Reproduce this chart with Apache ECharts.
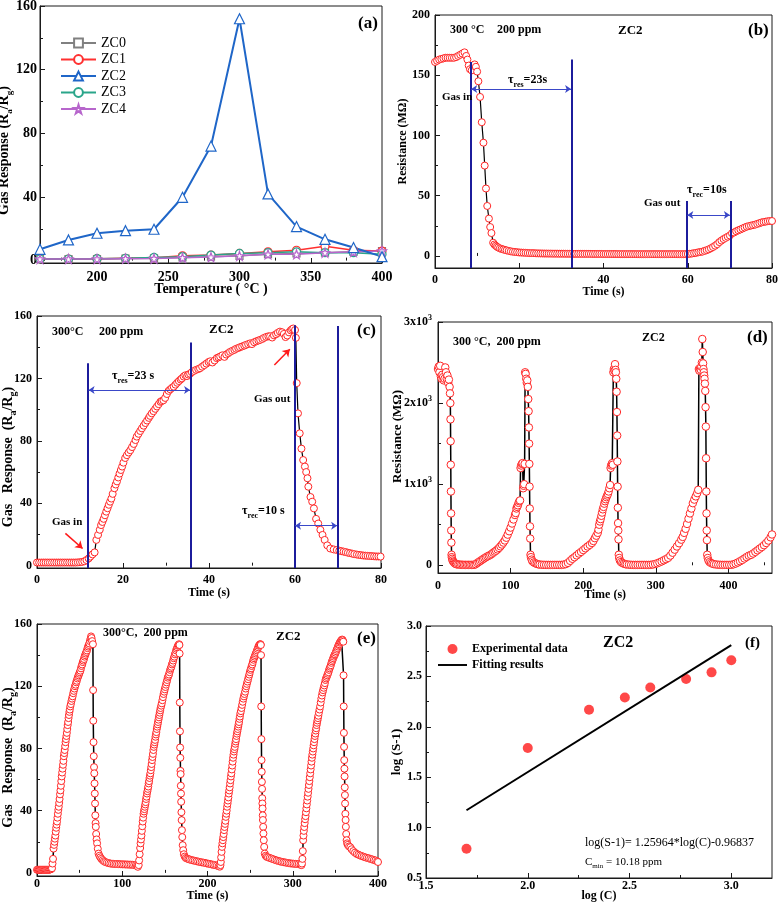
<!DOCTYPE html>
<html><head><meta charset="utf-8">
<script src="https://cdn.jsdelivr.net/npm/echarts@6.0.0/dist/echarts.min.js"></script>
<style>html,body{margin:0;padding:0;background:#fff}#main{width:780px;height:906px}</style>
</head><body><div id="main"></div>
<script>
// ---------- DATA ----------
// (a) temperature dependence
const temps = [160,180,200,220,240,260,280,300,320,340,360,380,400];
const zc0 = [1.0,1.0,1.0,1.3,1.5,2.0,2.5,3.0,4.0,4.5,5.0,5.5,6.0];
const zc1 = [1.0,1.0,1.2,1.5,1.8,3.0,3.5,4.5,5.5,6.5,9.0,6.5,6.0];
const zc2 = [7.1,13.0,17.2,18.8,19.7,39.8,72.0,152.0,41.9,21.4,13.4,8.2,2.5];
const zc3 = [1.0,1.0,1.2,1.5,2.0,2.5,3.5,4.5,5.0,5.5,5.0,5.0,4.0];
const zc4 = [1.0,1.0,1.0,1.2,1.3,1.8,2.2,3.0,4.0,4.0,5.0,5.5,6.0];

// (b) resistance vs time [t, R]
const resistB = [[0,161],[0.5,162],[1,163],[1.5,163.5],[2,164],[2.5,164.5],[3,164.5],[3.5,164.5],[4,164.5],[4.5,164.5],[5,165],[5.5,166],[6,167],[6.5,168],[7,169],[7.4,166],[7.7,163],[8,158],[8.3,155],[8.7,154],[9.1,158],[9.4,159],[9.7,157],[10,153],[10.3,145],[10.7,132],[11.1,111],[11.5,94],[11.8,75],[12.1,56],[12.4,41.5],[12.8,31],[13.1,24],[13.4,19],[13.8,11],[14.1,9.5],[14.4,8.5],[14.7,7.7],[15,7],[15.4,6.3],[15.8,5.8],[16.2,5.4],[16.6,5],[17,4.6],[17.5,4.2],[18,3.8],[18.5,3.5],[19,3.3],[19.5,3.1],[20,2.9],[20.5,2.8],[21,2.7],[21.5,2.6],[22,2.5],[22.5,2.4],[23,2.35],[23.5,2.3],[24,2.2],[24.5,2.15],[25,2.1],[25.5,2.05],[26,2],[26.5,2],[27,1.95],[27.5,1.95],[28,1.9],[28.5,1.9],[29,1.9],[29.5,1.85],[30,1.85],[30.5,1.85],[31,1.8],[31.5,1.8],[32,1.8],[32.5,1.8],[33,1.75],[33.5,1.75],[34,1.75],[34.5,1.75],[35,1.7],[35.5,1.7],[36,1.7],[36.5,1.7],[37,1.7],[37.5,1.65],[38,1.65],[38.5,1.65],[39,1.65],[39.5,1.65],[40,1.6],[40.5,1.6],[41,1.6],[41.5,1.6],[42,1.6],[42.5,1.6],[43,1.6],[43.5,1.55],[44,1.55],[44.5,1.55],[45,1.55],[45.5,1.55],[46,1.55],[46.5,1.55],[47,1.5],[47.5,1.5],[48,1.5],[48.5,1.5],[49,1.5],[49.5,1.5],[50,1.5],[50.5,1.5],[51,1.5],[51.5,1.5],[52,1.5],[52.5,1.5],[53,1.5],[53.5,1.5],[54,1.5],[54.5,1.5],[55,1.5],[55.5,1.5],[56,1.5],[56.5,1.5],[57,1.5],[57.5,1.5],[58,1.5],[58.5,1.5],[59,1.5],[59.5,1.55],[60,1.6],[60.5,1.8],[61,2],[61.5,2.3],[62,2.6],[62.5,3],[63,3.3],[63.5,3.6],[64,4.2],[64.5,4.8],[65,5.5],[65.5,6.4],[66,7.4],[66.5,8.5],[67,9.8],[67.5,11.5],[68,12.8],[68.5,14],[69,15],[69.5,16],[70,17],[70.5,18.8],[71,19.5],[71.5,20.5],[72,21.3],[72.5,22],[73,22.8],[73.5,23.6],[74,24.3],[74.5,24.8],[75,25.2],[75.5,25.6],[76,26],[76.5,26.6],[77,27.2],[77.5,27.8],[78,28.2],[78.5,28.5],[79,28.8],[79.5,29],[80,29]];

// (c) response vs time [t, S]
const respC = [[0,2],[0.5,2],[1,2],[1.5,2],[2,2],[2.5,2],[3,2],[3.5,2],[4,2],[4.5,2],[5,2],[5.5,2],[6,2],[6.5,2],[7,2],[7.5,2],[8,2],[8.5,2],[9,2],[9.5,2.1],[10,2.2],[10.5,2.4],[11,2.8],[11.5,3.6],[12,4.6],[12.4,5.8],[12.9,7.2],[13.4,8.5],[13.8,16.5],[14.2,19.7],[14.6,23],[14.9,26],[15.2,28],[15.5,30],[15.8,32.3],[16.1,34.6],[16.4,36.8],[16.7,39],[17,41],[17.3,43],[17.6,46],[18,49.6],[18.3,52],[18.6,54],[18.9,56.5],[19.2,59],[19.5,61.3],[19.8,63.5],[20.1,66],[20.5,69],[20.9,70.8],[21.3,72.5],[21.7,74],[22.1,76],[22.5,78],[22.9,80.5],[23.2,82.7],[23.6,84.5],[24,86.3],[24.4,88],[24.8,89.7],[25.2,91.4],[25.6,93],[26,94.7],[26.3,96],[26.7,97.6],[27.1,99],[27.5,100.5],[27.9,102],[28.3,103.5],[28.7,105],[29,105.5],[29.4,106],[29.8,107.5],[30.2,110],[30.6,112],[31,113],[31.4,114],[31.8,114.7],[32.2,116],[32.6,117.2],[33,118.3],[33.4,119.3],[33.7,120],[34.1,121.2],[34.5,122],[34.9,121.5],[35.2,122.5],[35.6,123],[36,124],[36.5,124.8],[37,125.5],[37.5,126],[37.9,126.5],[38.4,127.5],[38.9,128.5],[39.4,129.5],[39.9,130.5],[40.3,131],[40.8,130.2],[41.3,131.5],[41.8,133],[42.2,133.5],[42.6,134],[43.1,134.8],[43.6,133.8],[44,135.3],[44.5,136.2],[44.9,137],[45.4,137.7],[45.9,138.3],[46.3,139],[46.8,139.5],[47.2,140],[47.7,140.5],[48.2,141],[48.6,141.5],[49.1,142],[49.6,142.5],[50,142],[50.5,143.2],[51,143.8],[51.5,144.3],[51.9,144.7],[52.4,145.3],[52.8,146],[53.3,146.6],[53.8,147],[54.2,147],[54.7,146.2],[55.1,147.6],[55.6,148.3],[56,149.2],[56.5,150],[57,149.6],[57.4,148.5],[57.8,146.5],[58.2,147.5],[58.6,149.5],[59,150.8],[59.3,151.5],[59.6,152],[60,151],[60.2,146],[60.4,117],[60.7,97.6],[61.1,84.8],[61.5,75],[61.9,67.7],[62.3,63.5],[62.6,60],[62.9,56],[63.1,50.6],[63.6,44],[64,41],[64.4,36.7],[64.9,30],[65.4,27],[65.9,23],[66.4,19.7],[66.9,16.5],[67.5,13],[68.2,11],[69,10.4],[69.7,10],[70.3,9.6],[70.8,9.3],[71.3,9],[71.8,8.7],[72.3,8.3],[72.8,8],[73.3,7.7],[73.8,7.4],[74.4,7.1],[74.9,6.9],[75.4,6.7],[75.9,6.5],[76.4,6.4],[76.9,6.3],[77.4,6.2],[77.9,6.1],[78.4,6],[78.9,5.9],[79.4,5.9],[79.9,5.8]];

// (d) cyclic resistance [t, R]
const resistD = [[0,2420],[1,2450],[2,2380],[3,2460],[4,2330],[5,2300],[6,2350],[7,2320],[8,2280],[9,2300],[10,2440],[11,2380],[12,2300],[13,2340],[14,2250],[15,2290],[16,2200],[16.5,2120],[17,2000],[17.2,1800],[17.4,1530],[17.6,1240],[17.8,910],[18,640],[18.2,430],[18.4,280],[18.7,130],[19,100],[19.5,80],[20,60],[21,45],[22,35],[23,25],[24,20],[25,15],[26,12],[28,10],[30,8],[32,7],[34,6],[36,5],[38,5],[40,5],[42,5],[44,5],[46,5],[48,5],[50,6],[52,14],[54,28],[56,40],[58,52],[60,64],[62,76],[64,88],[66,99],[68,110],[70,118],[72,128],[74,140],[76,155],[78,168],[80,180],[82,196],[84,214],[86,234],[88,256],[90,280],[92,306],[94,340],[96,378],[98,420],[100,465],[102,515],[104,565],[106,620],[107,645],[108,700],[109,720],[110,740],[111,770],[112,790],[113,800],[113.7,1200],[114.5,1230],[115.5,1250],[116.5,1260],[117.3,950],[118,980],[118.7,1000],[119.3,1250],[120,2380],[120.7,2360],[121.5,2300],[122.3,2250],[123,2280],[123.7,2200],[124.3,2050],[124.8,1900],[125.2,1700],[125.5,1500],[125.8,1250],[126.1,970],[126.4,700],[126.7,480],[127,330],[127.4,130],[128,100],[129,70],[130,50],[132,35],[134,25],[136,18],[138,12],[140,9],[143,7],[146,6],[149,5],[152,5],[155,5],[158,5],[161,5],[164,5],[167,5],[170,5],[173,8],[176,15],[179,30],[182,55],[185,80],[188,100],[191,122],[194,145],[197,165],[200,188],[203,210],[206,232],[209,252],[212,275],[214,300],[216,335],[218,365],[220,400],[221,440],[222,500],[223,540],[224,570],[225,610],[226,650],[227,690],[228,720],[229,760],[230,790],[231,815],[232,840],[233,860],[234,880],[235,910],[236,950],[237,990],[237.7,1200],[238.5,1230],[239.3,1250],[240,1260],[240.8,1240],[241.5,2380],[242.2,2420],[243,2400],[243.8,2480],[244.5,2410],[245,2380],[245.5,2300],[246,2140],[246.4,1890],[246.8,1600],[247.1,1280],[247.4,970],[247.7,710],[248,520],[248.3,430],[248.6,320],[249,130],[249.6,90],[250.5,60],[252,40],[254,28],[256,20],[258,14],[260,10],[263,8],[266,6],[269,5],[272,5],[275,5],[278,5],[281,5],[284,5],[287,5],[290,5],[293,6],[296,10],[299,16],[302,25],[305,36],[308,48],[311,62],[314,76],[317,92],[320,120],[323,155],[326,193],[329,232],[332,272],[335,316],[337,350],[339,400],[341,450],[343,510],[345,575],[347,640],[349,700],[351,766],[353,810],[355,850],[357,890],[358.4,930],[359.3,2420],[360,2400],[361,2430],[362,2410],[362.7,2450],[363.4,2500],[364,2790],[364.6,2630],[365.1,2490],[365.6,2420],[366.1,2380],[366.6,2340],[367.1,2300],[367.6,2240],[368.1,2150],[368.5,1950],[368.9,1710],[369.2,1320],[369.5,910],[369.8,640],[370.1,430],[370.4,310],[370.8,130],[371.5,90],[372.5,60],[374,40],[376,28],[378,20],[380,14],[383,10],[386,7],[389,6],[392,5],[395,5],[398,5],[401,5],[404,6],[407,12],[410,22],[413,35],[416,50],[419,66],[422,84],[425,102],[428,118],[431,128],[434,145],[437,165],[440,185],[443,205],[446,225],[449,248],[452,275],[455,305],[458,345],[460,380]];

// (e) cyclic response [t, S]
const respE = [[0,2],[1,2],[2,2],[3,2],[4,2],[5,2],[6,2],[7,2],[8,2],[9,2],[10,2],[11,2],[12,2],[13,2],[14,2],[15,2.1],[16,2.3],[17,2.6],[17.6,3],[18.2,6],[18.8,9],[19.4,15.6],[20,18],[20.5,20],[21,22],[21.5,24],[22,26.5],[22.5,29],[23,31],[23.5,33],[24,35.5],[24.5,38],[25,40.5],[25.5,42.5],[26,45],[26.5,47.5],[27,50.5],[27.5,53],[28,56],[28.5,59],[29,62],[29.5,64.5],[30,67],[30.5,69.5],[31,72],[31.5,75],[32,77],[32.5,79],[33,81.5],[33.5,84],[34,86],[34.5,88],[35,90],[35.5,92.5],[36,95],[36.5,97],[37,99.5],[37.5,101.5],[38,103.5],[38.5,105],[39,107],[39.7,108.5],[40.4,110.5],[41.1,112],[41.8,113.5],[42.5,115.5],[43.2,117],[43.9,118.5],[44.6,120],[45.3,121],[46,122.5],[46.7,123.5],[47.4,125],[48.1,126],[48.8,127],[49.5,128],[50.2,129],[50.9,130],[51.6,131.5],[52.3,133],[53,134],[53.7,135.5],[54.4,136.5],[55.1,137.5],[55.8,139],[56.5,140],[57.2,141],[57.9,142],[58.6,143],[59.3,144.5],[60,145.5],[60.7,146.5],[61.4,147.5],[62.1,149],[62.8,150.5],[63.4,152],[64,151],[64.7,149],[65.6,147],[65.8,117.5],[66,97.8],[66.3,84],[66.6,75],[66.9,68],[67.2,64],[67.5,57.5],[67.8,51],[68.1,44.6],[68.4,37],[68.7,32],[69,29.6],[69.4,25],[69.9,21.5],[70.5,19],[71.3,15.5],[72.2,12.4],[73.2,11],[74.3,10],[75.5,9],[77,8.2],[78.5,7.5],[80,7],[82,6.6],[84,6.3],[86,6],[88,5.9],[90,5.8],[92,5.7],[94,5.7],[96,5.6],[98,5.6],[100,5.5],[102,5.5],[104,5.4],[106,5.4],[108,5.3],[110,5.3],[112,5.2],[114,5.1],[116,5],[117.3,4.5],[118.3,3.9],
[119.3,5],[119.8,8],[120.4,12],[121,16],[121.5,19],[122,21.5],[122.5,24],[123,27],[123.5,30],[124,33],[124.5,35.5],[125,38],[125.5,39.5],[126,41],[126.5,42.5],[127,44],[127.5,45.5],[128,47.5],[128.5,49],[129,51],[129.5,52.5],[130,54],[130.5,55.5],[131,57.5],[131.5,59],[132,61],[132.5,62.5],[133,64],[133.5,66],[134,68],[134.5,70],[135,72.5],[135.5,74.5],[136,76.5],[136.5,79],[137,81],[137.5,82.5],[138,84],[138.5,85.5],[139,87.5],[139.5,89],[140,90.5],[140.5,92.5],[141,94],[141.5,95.5],[142,97],[142.5,98.5],[143,100],[143.5,101.5],[144,103],[144.5,104.5],[145,106],[145.7,107.5],[146.4,109],[147.1,111],[147.8,113],[148.5,115],[149.2,116.5],[149.9,118],[150.6,119.5],[151.3,121],[152,122.5],[152.7,124],[153.4,125.5],[154.1,126.5],[154.8,127.5],[155.5,129],[156.2,130.5],[156.9,131.5],[157.6,132.5],[158.3,134],[159,135],[159.7,136.5],[160.4,138],[161.1,139],[161.8,140.5],[162.5,141.5],[163.2,143],[163.9,144],[164.6,145],[165.3,146],[166,146.5],[166.6,147],[167.1,146.5],[167.3,141],[167.5,109.5],[167.7,91],[167.9,80.6],[168.1,74],[168.3,65.6],[168.5,63.5],[168.7,56],[168.9,51],[169.1,45.7],[169.4,39],[169.7,33.9],[170,27.5],[170.4,23],[170.9,17.8],[171.5,14.6],[172.3,12],[173.3,10.5],[174.5,9.6],[176,9.2],[177.5,8.9],[179,8.6],[181,8.3],[183,8],[185,7.8],[187,7.5],[189,7.3],[191,7],[193,6.8],[195,6.6],[197,6.4],[199,6.1],[201,5.9],[203,5.7],[205,5.4],[207,5.2],[209,5],[211,4.7],[213,4.3],[214.5,4],
[215.2,5],[215.6,7],[216,10],[216.5,13.5],[217,16.7],[217.5,19],[218,21],[218.5,23],[219,25],[219.5,27.5],[220,29.5],[220.5,31.5],[221,33.5],[221.5,36],[222,38],[222.5,40],[223,42.5],[223.5,44.5],[224,46.5],[224.5,48.5],[225,51],[225.5,53],[226,55],[226.5,57.5],[227,59.6],[227.5,62],[228,64],[228.5,66.5],[229,69],[229.5,71.5],[230,74],[230.5,76],[231,78],[231.5,79.5],[232,81],[232.5,83],[233,84.5],[233.5,86],[234,88],[234.5,89.5],[235,91],[235.5,92.5],[236,94],[236.5,95.5],[237,97],[237.5,99],[238,100.5],[238.5,102.5],[239.2,104],[239.9,106],[240.6,108],[241.3,110],[242,112],[242.7,113.5],[243.4,115],[244.1,116.5],[244.8,118.5],[245.5,120],[246.2,121.5],[246.9,123],[247.6,124.5],[248.3,126],[249,127.5],[249.7,129],[250.4,130.5],[251.1,131.5],[251.8,133],[252.5,134],[253.2,135.5],[253.9,137],[254.6,138],[255.3,139],[256,140],[256.7,141],[257.4,142],[258.1,143],[258.8,144],[259.5,145],[260.2,146],[260.9,146.5],[261.6,147],[262.2,147],[262.6,146.5],[262.8,140],[263,107],[263.2,86],[263.4,72.5],[263.6,65],[263.8,58.5],[264,54],[264.2,48],[264.4,44.6],[264.6,41.4],[264.8,37],[265,34],[265.3,29.6],[265.6,25.3],[266,21],[266.5,16.7],[267.2,12.4],[268.2,11],[269.5,10.3],[271,10],[273,9.6],[275,9.2],[277,8.8],[279,8.4],[281,8],[283,7.7],[285,7.4],[287,7.1],[289,6.9],[291,6.7],[293,6.5],[295,6.3],[297,6.1],[299,6],[301,5.9],[303,5.8],[305,5.7],[307,5.6],[309,5.3],[310.3,5],
[310.8,6],[311.3,9],[311.8,14],[312.2,21],[312.6,24],[313,27],[313.5,29.5],[314,32],[314.5,34.5],[315,36.5],[315.5,39],[316,41.5],[316.5,44],[317,46.5],[317.5,49],[318,51.5],[318.5,54],[319,56.5],[319.5,59],[320,61.5],[320.5,64],[321,66.5],[321.5,69],[322,71.5],[322.5,74],[323,76],[323.5,78],[324,80],[324.5,82],[325,84],[325.5,86],[326,88],[326.5,89.6],[327,91.5],[327.5,93],[328,95],[328.5,96.5],[329,98],[329.5,99.5],[330,101],[330.7,103],[331.4,105],[332.1,107],[332.8,109.5],[333.5,112],[334.2,114],[334.9,116],[335.6,117.5],[336.3,119],[337,120.5],[337.7,122],[338.4,124],[339.1,125],[339.8,126],[340.5,127],[341.2,128],[341.9,129],[342.6,130.5],[343.3,131.5],[344,132.5],[344.7,133.5],[345.4,135],[346.1,136],[346.8,137],[347.5,138],[348.2,139],[348.9,140],[349.6,140.5],[350.3,141.5],[351,142.5],[351.7,143.5],[352.4,144.5],[353.1,145.5],[353.8,146.5],[354.5,147],[355.2,148],[355.9,148.6],[356.6,149.2],[357.3,149.7],[358,150],[358.7,149.5],[359.3,148.6],[359.6,127],[359.8,107],[360,90],[360.2,81],[360.4,72.5],[360.6,67],[360.8,62],[361,55],[361.2,50],[361.4,44.6],[361.7,38],[362,34],[362.3,29.6],[362.7,25],[363.2,21],[363.8,19],[364.6,18],[366,17],[367.5,16.5],[369,15.2],[371,14],[373,13],[375,12.2],[377,11.7],[379,11.2],[381,10.8],[383,10.4],[385,10],[387,9.7],[389,9.4],[391,9],[393,8.7],[395,8.3],[397,8],[399,7.5],[400,7]];

// (f) log-log fit
const logC = [1.699, 2.0, 2.301, 2.477, 2.602, 2.778, 2.903, 3.0];
const logS = [0.79, 1.79, 2.17, 2.29, 2.39, 2.475, 2.54, 2.66];
const fitX = [1.699, 3.0];
const fitY = [1.172, 2.810];

// tick labels
const ticksA_x = [200,250,300,350,400], ticksA_y = [0,40,80,120,160];
const ticksB_x = [0,20,40,60,80], ticksB_y = [0,50,100,150,200];
const ticksC_x = [0,20,40,60,80], ticksC_y = [0,40,80,120,160];
const ticksD_x = [0,100,200,300,400], ticksD_y = [0,1000,2000,3000];
const ticksE_x = [0,100,200,300,400], ticksE_y = [0,40,80,120,160];
const ticksF_x = [1.5,2.0,2.5,3.0], ticksF_y = [0.5,1.0,1.5,2.0,2.5,3.0];

// ---------- CHART ----------
const SERIF = '"Liberation Serif","Times New Roman",serif';
const INK = '#1a1a1a';
const RED = '#ff2626';
const NAVY = '#1c1c9c';

function mainAxis(gi, min, max, ticks, o) {
  o = o || {};
  const fs = o.fs || 12;
  const a = {
    type: 'value', gridIndex: gi, min: min, max: max,
    axisLine: {show: true, onZero: false, lineStyle: {color: INK, width: 1}},
    axisTick: {show: true, inside: true, length: 5, customValues: ticks, lineStyle: {color: INK, width: 1}},
    axisLabel: {show: true, customValues: ticks, fontFamily: SERIF, fontWeight: 'bold', fontSize: fs, color: '#000', margin: o.margin == null ? 5 : o.margin},
    splitLine: {show: false},
    name: o.name, nameLocation: 'middle', nameGap: o.nameGap, nameMoveOverlap: false,
    nameTextStyle: Object.assign({fontFamily: SERIF, fontWeight: 'bold', fontSize: o.nfs || 12, color: '#000'}, o.nameStyle || {})
  };
  if (o.formatter) a.axisLabel.formatter = o.formatter;
  if (o.rich) a.axisLabel.rich = o.rich;
  return a;
}
function minorAxis(gi, min, max, vals, pos) {
  return {type: 'value', gridIndex: gi, min: min, max: max, position: pos,
    axisLine: {show: false}, axisLabel: {show: false}, splitLine: {show: false},
    axisTick: {show: true, inside: true, length: 3, customValues: vals, lineStyle: {color: INK, width: 1}}};
}
function subName(prefix, size, subSize) {
  return {
    text: '{n|' + prefix + '(R}{s|a}{n|/R}{s|g}{n|)}',
    rich: {
      n: {fontFamily: SERIF, fontWeight: 'bold', fontSize: size, lineHeight: size + 5, color: '#000'},
      s: {fontFamily: SERIF, fontWeight: 'bold', fontSize: subSize, lineHeight: subSize, verticalAlign: 'bottom', color: '#000'}
    }
  };
}
const nA = subName('Gas Response ', 14, 9);
const nC = subName('Gas   Response  ', 14, 10);
const nE = subName('Gas   Response  ', 14, 10);

const xAxes = [
  mainAxis(0, 160, 400, ticksA_x, {fs: 14, margin: 7, name: 'Temperature ( \u00B0C )', nameGap: 19, nfs: 14}),
  mainAxis(1, 0, 80, ticksB_x, {margin: 6, name: 'Time (s)', nameGap: 18}),
  mainAxis(2, 0, 80, ticksC_x, {margin: 6, name: 'Time (s)', nameGap: 19}),
  mainAxis(3, 0, 460, ticksD_x, {margin: 7, name: 'Time (s)', nameGap: 16}),
  mainAxis(4, 0, 400, ticksE_x, {margin: 2, name: 'Time (s)', nameGap: 14}),
  mainAxis(5, 1.5, 3.2, ticksF_x, {margin: 2, name: 'log (C)', nameGap: 12, formatter: v => v.toFixed(1)}),
  minorAxis(0, 160, 400, [175,225,275,325,375], 'bottom'),
  minorAxis(1, 0, 80, [10,30,50,70], 'bottom'),
  minorAxis(2, 0, 80, [10,30,50,70], 'bottom'),
  minorAxis(3, 0, 460, [50,150,250,350,450], 'bottom'),
  minorAxis(4, 0, 400, [50,150,250,350], 'bottom'),
  minorAxis(5, 1.5, 3.2, [1.75,2.25,2.75], 'bottom')
];
const yAxes = [
  mainAxis(0, -1.5, 160, ticksA_y, {fs: 14, margin: 3, name: nA.text, nameGap: 26, nameStyle: {rich: nA.rich, padding: [0, 32, 0, 0]}}),
  mainAxis(1, -10, 200, ticksB_y, {margin: 5, name: 'Resistance (M\u03A9)', nameGap: 26}),
  mainAxis(2, -1.5, 160, ticksC_y, {margin: 5, name: nC.text, nameGap: 19, nameStyle: {rich: nC.rich, padding: [0, 30, 0, 0]}}),
  mainAxis(3, -95, 3000, ticksD_y, {margin: 6, name: 'Resistance (M\u03A9)', nameGap: 34, nfs: 13,
    nameStyle: {padding: [0, 0, 0, 22]},
    formatter: v => v === 0 ? '{m|0}' : '{m|' + Math.round(v / 1000) + 'x10}{p|3}',
    rich: {m: {fontFamily: SERIF, fontWeight: 'bold', fontSize: 12, lineHeight: 16, color: '#000'},
           p: {fontFamily: SERIF, fontWeight: 'bold', fontSize: 8, lineHeight: 8, verticalAlign: 'top', color: '#000'}}}),
  mainAxis(4, -2, 160, ticksE_y, {margin: 5, name: nE.text, nameGap: 19, nameStyle: {rich: nE.rich, padding: [0, 15, 0, 0]}}),
  mainAxis(5, 0.5, 3.0, ticksF_y, {margin: 4, name: 'log (S-1)', nameGap: 23, nfs: 13, formatter: v => v.toFixed(1)}),
  minorAxis(0, -1.5, 160, [20,60,100,140], 'left'),
  minorAxis(1, -10, 200, [25,75,125,175], 'left'),
  minorAxis(2, -1.5, 160, [20,60,100,140], 'left'),
  minorAxis(3, -95, 3000, [500,1500,2500], 'left'),
  minorAxis(4, -2, 160, [20,60,100,140], 'left'),
  minorAxis(5, 0.5, 3.0, [0.75,1.25,1.75,2.25,2.75], 'left')
];

const grids = [
  {left: 40, top: 6, width: 342, height: 257},
  {left: 435, top: 15, width: 337, height: 253},
  {left: 37, top: 316, width: 344, height: 252},
  {left: 438, top: 322, width: 334, height: 251},
  {left: 37, top: 624, width: 341, height: 252},
  {left: 426, top: 626, width: 346, height: 252}
].map(g => Object.assign(g, {show: true, borderColor: INK, borderWidth: 1, backgroundColor: 'transparent', containLabel: false, outerBoundsMode: 'none'}));

const STAR = 'path://M50,2 L61,36 L97,36 L68,57 L79,92 L50,71 L21,92 L32,57 L3,36 L39,36 Z';
function tempSeries(name, data, color, symbol, size, width) {
  return {type: 'line', name: name, xAxisIndex: 0, yAxisIndex: 0,
    data: temps.map((t, i) => [t, data[i]]), symbol: symbol, symbolSize: size,
    itemStyle: {color: '#fff', borderColor: color, borderWidth: 1.2},
    lineStyle: {color: color, width: width}, emphasis: {disabled: true}};
}
function timeSeries(name, gi, data, extra) {
  return Object.assign({type: 'line', name: name, xAxisIndex: gi, yAxisIndex: gi, data: data,
    symbol: 'circle', symbolSize: 7, showSymbol: true, showAllSymbol: true,
    itemStyle: {color: '#fff', borderColor: RED, borderWidth: 1},
    lineStyle: {color: '#000', width: 1.2}, emphasis: {disabled: true}}, extra || {});
}
function vline(x, y0, y1) { return [{coord: [x, y0], symbol: 'none'}, {coord: [x, y1], symbol: 'none'}]; }
function harrow(x0, x1, y) {
  const ls = {color: '#3a48c8', width: 1, type: 'solid'};
  return [{coord: [x0, y], symbol: 'arrow', symbolSize: 6, lineStyle: ls}, {coord: [x1, y], symbol: 'arrow', symbolSize: 6}];
}
function redArrow(x0, y0, x1, y1) {
  const ls = {color: '#ff1a1a', width: 1.5, type: 'solid'};
  return [{coord: [x0, y0], symbol: 'none', lineStyle: ls}, {coord: [x1, y1], symbol: 'arrow', symbolSize: 7}];
}
const mlBase = {silent: true, animation: false, label: {show: false}, symbol: ['none', 'none'],
  lineStyle: {color: NAVY, width: 2, type: 'solid'}, emphasis: {disabled: true}};

function T(x, y, text, size, bold, rich) {
  return {type: 'text', x: x, y: y, silent: true, z: 100,
    style: {text: text, fontSize: size, fontFamily: SERIF, fontWeight: bold ? 'bold' : 'normal', fill: '#000',
      align: 'left', verticalAlign: 'middle', textAlign: 'left', textVerticalAlign: 'middle', rich: rich}};
}
function tauRich(size) {
  return {t: {fontSize: size, fontFamily: SERIF, fontWeight: 'bold', fill: '#000', lineHeight: size + 6},
          s: {fontSize: Math.round(size * 0.7), fontFamily: SERIF, fontWeight: 'bold', fill: '#000', lineHeight: 8, verticalAlign: 'bottom'}};
}
const cminRich = {t: {fontSize: 11, fontFamily: SERIF, fill: '#000', lineHeight: 16},
                  s: {fontSize: 7, fontFamily: SERIF, fill: '#000', lineHeight: 7, verticalAlign: 'bottom'}};

const texts = [
  T(358, 24, '(a)', 17, true),
  T(450, 30, '300 \u00B0C', 12, true), T(497, 30, '200 ppm', 12, true), T(618, 31, 'ZC2', 13, true), T(748, 31, '(b)', 17, true),
  T(442, 97, 'Gas in', 11, true), T(508, 80, '{t|\u03C4}{s|res}{t|=23s}', 12, true, tauRich(12)),
  T(644, 203, 'Gas out', 11, true), T(687, 190, '{t|\u03C4}{s|rec}{t|=10s}', 12, true, tauRich(12)),
  T(52, 332, '300\u00B0C', 12, true), T(99, 332, '200 ppm', 12, true), T(209, 330, 'ZC2', 13, true), T(357, 331, '(c)', 17, true),
  T(112, 376, '{t|\u03C4}{s|res}{t|=23 s}', 12, true, tauRich(12)), T(254, 399, 'Gas out', 11, true),
  T(52, 522, 'Gas in', 11, true), T(242, 511, '{t|\u03C4}{s|rec}{t|=10 s}', 12, true, tauRich(12)),
  T(453, 342, '300 \u00B0C,  200 ppm', 12, true), T(642, 338, 'ZC2', 12, true), T(747, 338, '(d)', 17, true),
  T(103, 633, '300\u00B0C,  200 ppm', 12, true), T(276, 637, 'ZC2', 13, true), T(357, 639, '(e)', 17, true),
  T(603, 643, 'ZC2', 16, true), T(745, 643, '(f)', 15, true),
  T(585, 843, 'log(S-1)= 1.25964*log(C)-0.96837', 12, false),
  T(585, 862, '{t|C}{s|min}{t| = 10.18 ppm}', 11, false, cminRich)
];

const series = [
  tempSeries('ZC0', zc0, '#808080', 'rect', 7, 1.5),
  tempSeries('ZC1', zc1, '#ff3030', 'circle', 8, 1.5),
  tempSeries('ZC3', zc3, '#2aa58a', 'circle', 8, 1.5),
  tempSeries('ZC4', zc4, '#b766cc', STAR, 9, 1.5),
  tempSeries('ZC2', zc2, '#1f66c8', 'triangle', 10, 2),
  timeSeries('B', 1, resistB, {markLine: Object.assign({}, mlBase, {data: [
    vline(8.45, -10, 161), vline(32.5, -10, 163), vline(59.8, -10, 45.6), vline(70.1, -10, 45.6),
    harrow(8.6, 32.3, 138.6), harrow(59.9, 70.0, 34)]})}),
  timeSeries('C', 2, respC, {markLine: Object.assign({}, mlBase, {data: [
    vline(11.85, -1.5, 129.7), vline(35.8, -1.5, 143), vline(59.9, -1.5, 154), vline(69.9, -1.5, 153.6),
    harrow(12.0, 35.6, 112.6), harrow(60.0, 69.8, 25.6),
    redArrow(6.6, 20.7, 10.6, 11), redArrow(55.2, 128.6, 58.8, 138.7)]})}),
  timeSeries('D', 3, resistD, {symbolSize: 7.5, lineStyle: {color: '#000', width: 1.5}}),
  timeSeries('E', 4, respE, {lineStyle: {color: '#000', width: 1.5}}),
  {type: 'scatter', name: 'Experimental data', xAxisIndex: 5, yAxisIndex: 5,
    data: logC.map((x, i) => [x, logS[i]]), symbol: 'circle', symbolSize: 10,
    itemStyle: {color: '#ff1a1a'}, emphasis: {disabled: true}},
  {type: 'line', name: 'Fitting results', xAxisIndex: 5, yAxisIndex: 5,
    data: fitX.map((x, i) => [x, fitY[i]]), symbol: 'none',
    lineStyle: {color: '#000', width: 2}, itemStyle: {color: '#000'}, emphasis: {disabled: true}}
];

const chart = echarts.init(document.getElementById('main'), null, {renderer: 'canvas'});
chart.setOption({
  backgroundColor: '#fff',
  animation: false,
  grid: grids,
  xAxis: xAxes,
  yAxis: yAxes,
  legend: [
    {data: ['ZC0', 'ZC1', 'ZC2', 'ZC3', 'ZC4'], orient: 'vertical', left: 60, top: 36, padding: 0,
      itemWidth: 35, itemHeight: 11, itemGap: 2.5, selectedMode: false,
      textStyle: {fontFamily: SERIF, fontSize: 14, color: '#000'}},
    {data: ['Experimental data', {name: 'Fitting results', icon: 'path://M0,0 L30,0 L30,2 L0,2 Z'}],
      orient: 'vertical', left: 438, top: 643, padding: 0,
      itemWidth: 29, itemHeight: 10, itemGap: 4, selectedMode: false,
      textStyle: {fontFamily: SERIF, fontWeight: 'bold', fontSize: 12, color: '#000'}}
  ],
  graphic: texts,
  series: series
});
</script></body></html>
